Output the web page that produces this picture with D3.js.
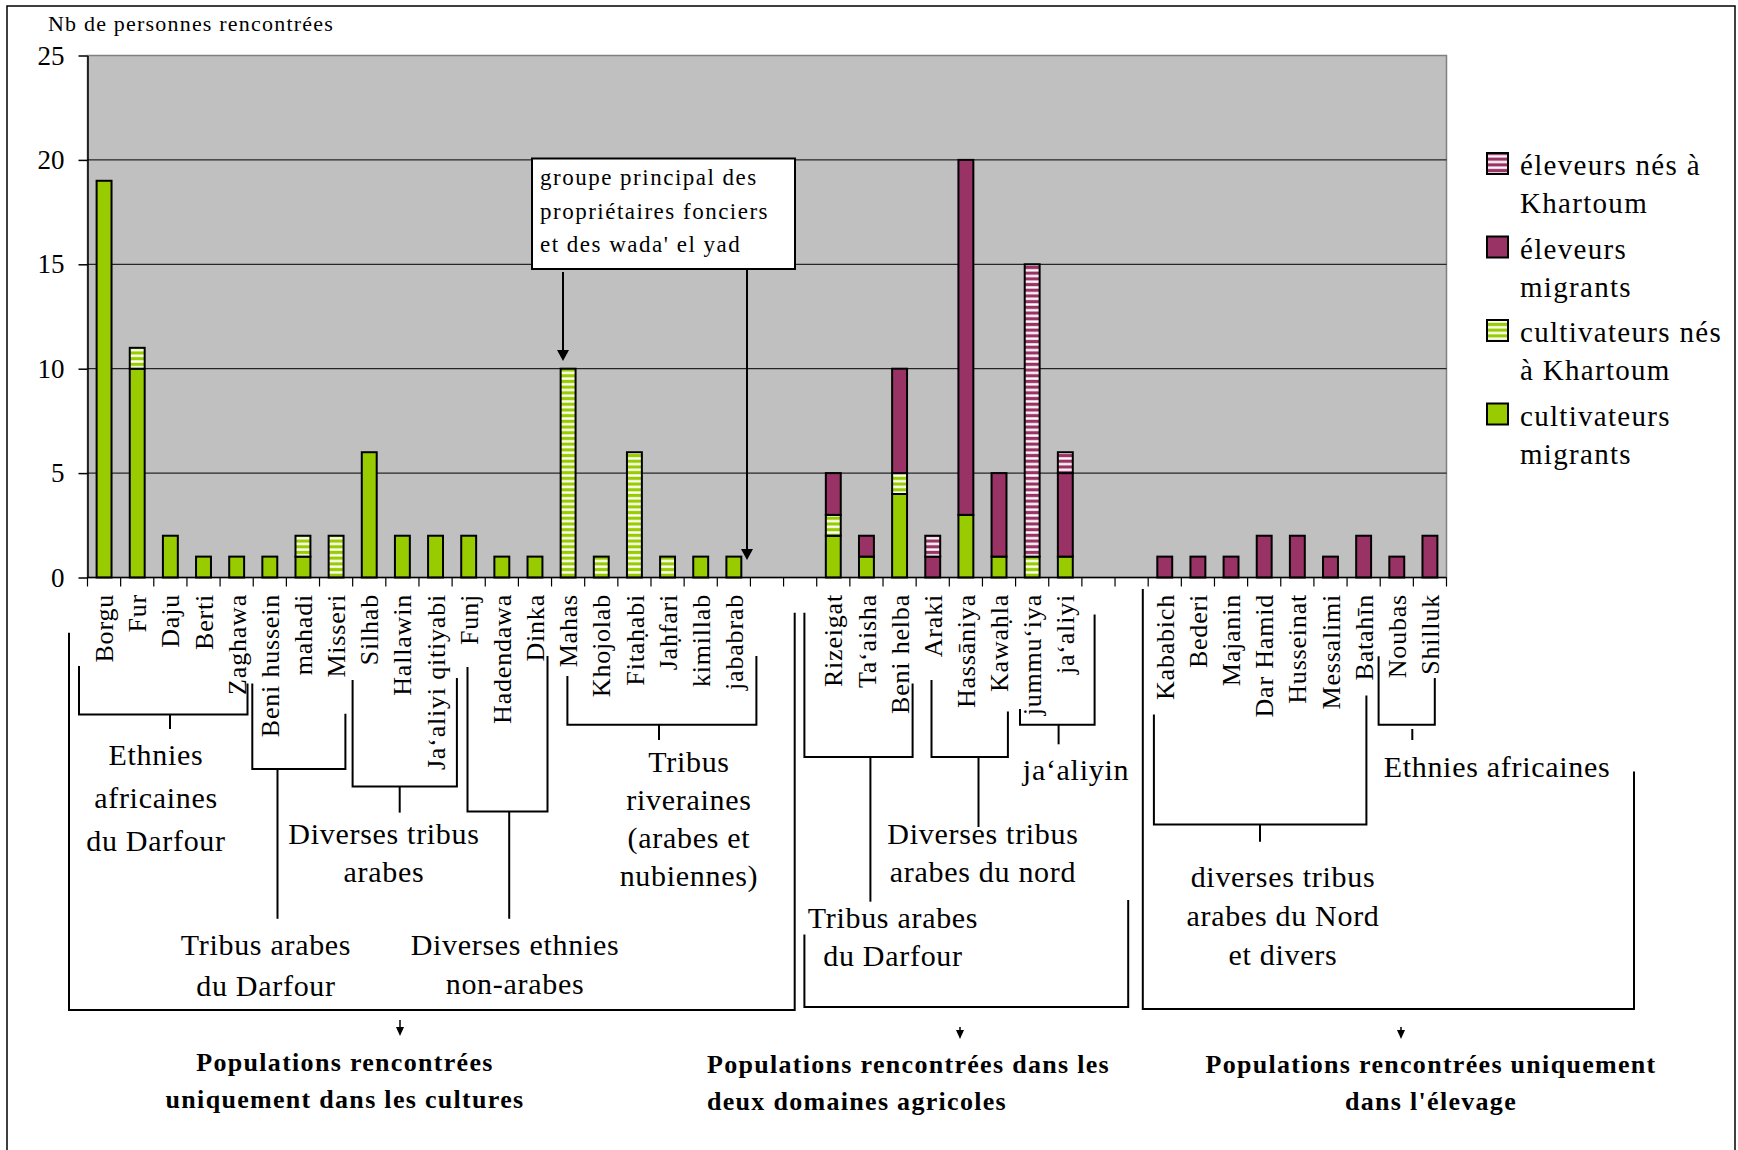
<!DOCTYPE html>
<html>
<head>
<meta charset="utf-8">
<script src="https://cdn.jsdelivr.net/npm/d3@7"></script>
<style>
  body { margin: 0; background: #fff; }
  svg { display: block; font-family: "Liberation Serif", "Times New Roman", serif; }
</style>
</head>
<body>
<div id="chart"></div>
<script>
// Categories (empty strings = gaps between the three groups)
const categories = [
  "Borgu", "Fur", "Daju", "Berti", "Zaghawa", "Beni hussein", "mahadi", "Misseri", "Silhab", "Hallawin",
  "Ja‘aliyi qitiyabi", "Funj", "Hadendawa", "Dinka", "Mahas", "Khojolab", "Fitaḥabi", "Jaḥfari", "kimillab", "jababrab",
  "", "",
  "Rizeigat", "Ta‘aisha", "Beni helba", "Araki", "Hassāniya", "Kawaḥla", "jummu‘iya", "ja‘aliyi",
  "", "",
  "Kababich", "Bederi", "Majanin", "Dar Hamid", "Husseinat", "Messalimi", "Batahīn", "Noubas", "Shilluk"
];

// Series values (stack order bottom -> top)
const cultivMigrants = [19, 10, 2, 1, 1, 1, 1, 0, 6, 2, 2, 2, 1, 1, 0, 0, 0, 0, 1, 1,  0, 0,  2, 1, 4, 0, 3, 1, 0, 1,  0, 0,  0, 0, 0, 0, 0, 0, 0, 0, 0];
const cultivNes      = [0, 1, 0, 0, 0, 0, 1, 2, 0, 0, 0, 0, 0, 0, 10, 1, 6, 1, 0, 0,  0, 0,  1, 0, 1, 0, 0, 0, 1, 0,  0, 0,  0, 0, 0, 0, 0, 0, 0, 0, 0];
const elevMigrants   = [0, 0, 0, 0, 0, 0, 0, 0, 0, 0, 0, 0, 0, 0, 0, 0, 0, 0, 0, 0,  0, 0,  2, 1, 5, 1, 17, 4, 0, 4,  0, 0,  1, 1, 1, 2, 2, 1, 2, 1, 2];
const elevNes        = [0, 0, 0, 0, 0, 0, 0, 0, 0, 0, 0, 0, 0, 0, 0, 0, 0, 0, 0, 0,  0, 0,  0, 0, 0, 1, 0, 0, 14, 1,  0, 0,  0, 0, 0, 0, 0, 0, 0, 0, 0];

const seriesKeys = ["cm", "cn", "em", "en"];
const legendKeys = ["en", "em", "cn", "cm"];
const legendLabels = {
  en: ["éleveurs nés à", "Khartoum"],
  em: ["éleveurs", "migrants"],
  cn: ["cultivateurs nés", "à Khartoum"],
  cm: ["cultivateurs", "migrants"]
};
const yTicks = [0, 5, 10, 15, 20, 25];

const width = 1738, height = 1150;
const plot = { left: 87.5, right: 1446.5, top: 55.5, bottom: 577.5 };
const green = "#99CC00", maroon = "#993366";

const svg = d3.select("#chart")
  .append("svg")
  .attr("width", width)
  .attr("height", height);

svg.append("rect").attr("width", width).attr("height", height).attr("fill", "#fff");

// Stripe patterns
const defs = svg.append("defs");
[["stripeGreen", green], ["stripeMaroon", maroon]].forEach(([id, col]) => {
  const p = defs.append("pattern")
    .attr("id", id)
    .attr("patternUnits", "userSpaceOnUse")
    .attr("width", 10)
    .attr("height", 5.7);
  p.append("rect").attr("width", 10).attr("height", 5.7).attr("fill", col);
  p.append("rect").attr("y", 1.2).attr("width", 10).attr("height", 2.4).attr("fill", "#fff");
});

const fills = { cm: green, cn: "url(#stripeGreen)", em: maroon, en: "url(#stripeMaroon)" };

// Outer frame
svg.append("rect")
  .attr("x", 7).attr("y", 6)
  .attr("width", 1728).attr("height", 1200)
  .attr("fill", "none").attr("stroke", "#000").attr("stroke-width", 1.5);

const rows = categories.map((c, i) => ({
  idx: i, name: c,
  cm: cultivMigrants[i], cn: cultivNes[i], em: elevMigrants[i], en: elevNes[i]
}));

const x = d3.scaleBand()
  .domain(rows.map(d => d.idx))
  .range([plot.left, plot.right])
  .paddingInner(0.55)
  .paddingOuter(0.275);

const y = d3.scaleLinear().domain([0, 25]).range([plot.bottom, plot.top]);

// Plot background
svg.append("rect")
  .attr("x", plot.left).attr("y", plot.top)
  .attr("width", plot.right - plot.left).attr("height", plot.bottom - plot.top)
  .attr("fill", "#C0C0C0").attr("stroke", "#808080").attr("stroke-width", 1.5);

// Gridlines
svg.append("g").selectAll("line")
  .data(yTicks.filter(t => t > 0 && t < 25))
  .join("line")
  .attr("x1", plot.left).attr("x2", plot.right)
  .attr("y1", d => y(d)).attr("y2", d => y(d))
  .attr("stroke", "#000").attr("stroke-width", 1);

// Y axis
const yAxis = svg.append("g")
  .attr("transform", `translate(${plot.left},0)`)
  .call(d3.axisLeft(y).tickValues(yTicks).tickSize(9).tickSizeOuter(0).tickPadding(14));
yAxis.select(".domain").attr("stroke", "#000").attr("stroke-width", 1.5);
yAxis.selectAll(".tick line").attr("stroke", "#000").attr("stroke-width", 1.5);
yAxis.selectAll("text")
  .style("font-family", "'Liberation Serif', serif")
  .style("font-size", "27px")
  .attr("fill", "#000");

// Axis title
svg.append("text")
  .attr("x", 48).attr("y", 31)
  .style("font-size", "22px")
  .style("letter-spacing", "1.2px")
  .text("Nb de personnes rencontrées");

// Stacked bars
const stacked = d3.stack().keys(seriesKeys)(rows);

svg.append("g").selectAll("g")
  .data(stacked)
  .join("g")
  .attr("fill", d => fills[d.key])
  .selectAll("rect")
  .data(d => d.filter(s => s[1] - s[0] > 0))
  .join("rect")
  .attr("x", d => x(d.data.idx))
  .attr("y", d => y(d[1]))
  .attr("width", x.bandwidth())
  .attr("height", d => y(d[0]) - y(d[1]))
  .attr("stroke", "#000")
  .attr("stroke-width", 2);

// X axis line and category ticks
const gap = (x.step() - x.bandwidth()) / 2;
svg.append("line")
  .attr("x1", plot.left).attr("x2", plot.right)
  .attr("y1", plot.bottom).attr("y2", plot.bottom)
  .attr("stroke", "#000").attr("stroke-width", 1.5);

const bounds = rows.map(d => x(d.idx) - gap).concat([plot.right]);
svg.append("g").selectAll("line")
  .data(bounds)
  .join("line")
  .attr("x1", d => d).attr("x2", d => d)
  .attr("y1", plot.bottom).attr("y2", plot.bottom + 9)
  .attr("stroke", "#000").attr("stroke-width", 1.2);

// X labels (rotated)
svg.append("g").selectAll("text")
  .data(rows.filter(d => d.name))
  .join("text")
  .attr("transform", d => `translate(${x(d.idx) + x.bandwidth() / 2},594) rotate(-90)`)
  .attr("dy", "0.35em")
  .attr("text-anchor", "end")
  .style("font-size", "26px")
  .style("letter-spacing", "0.8px")
  .text(d => d.name);

// Legend
const legend = svg.append("g");
legendKeys.forEach((k, i) => {
  const by = 175 + i * 83.5;
  legend.append("rect")
    .attr("x", 1487).attr("y", by - 22)
    .attr("width", 21).attr("height", 21)
    .attr("fill", fills[k]).attr("stroke", "#000").attr("stroke-width", 2);
  legendLabels[k].forEach((t, j) => {
    legend.append("text")
      .attr("x", 1520).attr("y", by + j * 38)
      .style("font-size", "29px")
      .style("letter-spacing", "1.3px")
      .text(t);
  });
});

// Callout box
const callout = svg.append("g");
callout.append("rect")
  .attr("x", 532).attr("y", 158.5)
  .attr("width", 263).attr("height", 110.5)
  .attr("fill", "#fff").attr("stroke", "#000").attr("stroke-width", 2);
["groupe principal des", "propriétaires fonciers", "et des wada' el yad"].forEach((t, i) => {
  callout.append("text")
    .attr("x", 540).attr("y", 185 + i * 33.5)
    .style("font-size", "23px")
    .style("letter-spacing", "1.5px")
    .text(t);
});

function arrowDown(g, ax, y1, y2, hw, hh, sw) {
  g.append("line")
    .attr("x1", ax).attr("x2", ax).attr("y1", y1).attr("y2", y2 - hh + 1)
    .attr("stroke", "#000").attr("stroke-width", sw);
  g.append("path")
    .attr("d", `M${ax - hw / 2},${y2 - hh} L${ax + hw / 2},${y2 - hh} L${ax},${y2} Z`)
    .attr("fill", "#000");
}

arrowDown(callout, 563, 272, 361, 12, 11, 2);
arrowDown(callout, 747, 269, 560, 12, 11, 2);

// Group brackets below axis
const ann = svg.append("g").attr("fill", "none").attr("stroke", "#000").attr("stroke-width", 2);
const bracketPaths = [
  "M79,666 V714.5 H247.5 V683.6", "M170,714.5 V729",
  "M252.3,683.6 V769 H345.4 V713.8", "M277.5,769 V918.8",
  "M352.6,680 V786.5 H456.9 V678", "M399.7,786.5 V812.6",
  "M467.5,667 V811.5 H547.5 V656", "M509.2,811.5 V918.8",
  "M567.4,676 V724.7 H756.4 V656", "M659,724.7 V740",
  "M69,632.7 V1010 H794.7 V612.7",
  "M804.4,612.7 V757 H912.6 V683.6", "M870.4,757 V901.7",
  "M931.5,680 V757 H1007.9 V711.6", "M978.5,757 V827",
  "M1020,709 V724.7 H1094.6 V614.5", "M1058.6,724.7 V744.3",
  "M804.4,934.4 V1007 H1128.2 V900",
  "M1153.9,714.5 V824.6 H1366.4 V695.6", "M1260,824.6 V841.7",
  "M1378.6,656.3 V724.7 H1434.8 V678", "M1412.3,729 V740",
  "M1142.8,589 V1009 H1634 V771.6"
];
ann.selectAll("path").data(bracketPaths).join("path").attr("d", d => d);

const arrows = svg.append("g");
arrowDown(arrows, 400, 1020, 1036, 8, 9, 1.5);
arrowDown(arrows, 960, 1027, 1039, 8, 9, 1.5);
arrowDown(arrows, 1401, 1027, 1039, 8, 9, 1.5);

// Group labels
const groupLabels = [
  { x: 156, y: 765, lines: ["Ethnies", "africaines", "du Darfour"], dy: 43 },
  { x: 266, y: 955, lines: ["Tribus arabes", "du Darfour"], dy: 41 },
  { x: 384, y: 844, lines: ["Diverses tribus", "arabes"], dy: 38 },
  { x: 515, y: 955, lines: ["Diverses ethnies", "non-arabes"], dy: 38.5 },
  { x: 689, y: 772, lines: ["Tribus", "riveraines", "(arabes et", "nubiennes)"], dy: 38 },
  { x: 893, y: 928, lines: ["Tribus arabes", "du Darfour"], dy: 37.5 },
  { x: 983, y: 844, lines: ["Diverses tribus", "arabes du nord"], dy: 38 },
  { x: 1076, y: 780, lines: ["ja‘aliyin"], dy: 0 },
  { x: 1283, y: 887, lines: ["diverses tribus", "arabes du Nord", "et divers"], dy: 39 },
  { x: 1497, y: 777, lines: ["Ethnies africaines"], dy: 0 }
];
const gl = svg.append("g");
groupLabels.forEach(g => {
  g.lines.forEach((t, i) => {
    gl.append("text")
      .attr("x", g.x).attr("y", g.y + i * g.dy)
      .attr("text-anchor", "middle")
      .style("font-size", "30px")
      .style("letter-spacing", "0.7px")
      .text(t);
  });
});

// Bold section titles
const sections = [
  { x: 345, anchor: "middle", lines: ["Populations rencontrées", "uniquement dans les cultures"] },
  { x: 707, anchor: "start", lines: ["Populations rencontrées dans les", "deux domaines agricoles"] },
  { x: 1431, anchor: "middle", lines: ["Populations rencontrées uniquement", "dans l'élevage"] }
];
sections.forEach((s, k) => {
  s.lines.forEach((t, i) => {
    svg.append("text")
      .attr("x", s.x).attr("y", (k === 0 ? 1071 : 1073) + i * 36.5)
      .attr("text-anchor", s.anchor)
      .style("font-size", "26px")
      .style("font-weight", "bold")
      .style("letter-spacing", "1.3px")
      .text(t);
  });
});
</script>
</body>
</html>
